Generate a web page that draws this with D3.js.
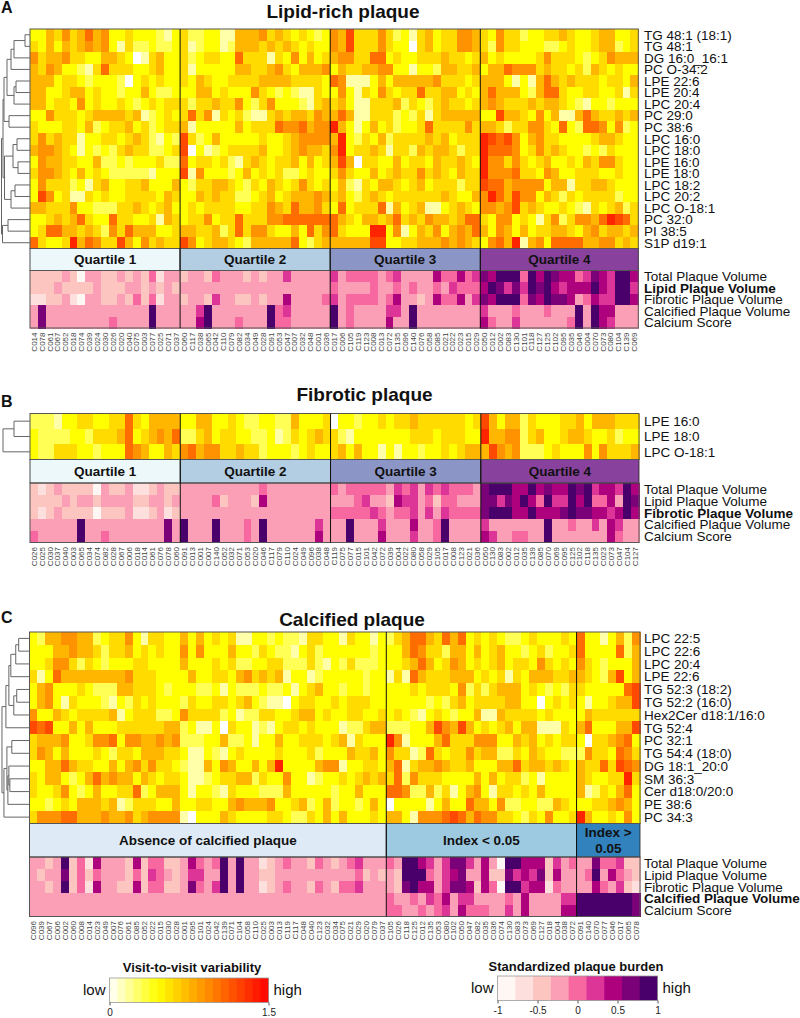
<!DOCTYPE html>
<html>
<head>
<meta charset="utf-8">
<script src="https://cdn.jsdelivr.net/npm/d3@7"></script>
<style>
html, body { margin: 0; padding: 0; background: #fff; }
svg { display: block; }
text { font-family: "Liberation Sans", Arial, sans-serif; }
</style>
</head>
<body>
<svg id="disp" width="800" height="1018"></svg>
<script>
// heat digits: value = digit * 0.15, burden digits: bin 1-9 of the legend
let aTitle = "Lipid-rich plaque";
let aGroups = ["Quartile 1", "Quartile 2", "Quartile 3", "Quartile 4"];
let aSamples = [
    ["C014","C078","C061","C067","C052","C018","C074","C039","C024","C030","C026","C020","C040","C075","C003","C077","C025","C071","C037"],
    ["C060","C117","C038","C065","C042","C110","C079","C082","C034","C049","C028","C091","C053","C047","C007","C032","C048","C001","C036"],
    ["C017","C006","C105","C119","C123","C008","C013","C072","C135","C096","C140","C076","C058","C085","C021","C022","C023","C015","C029"],
    ["C050","C012","C002","C083","C130","C101","C118","C127","C125","C102","C095","C035","C046","C004","C070","C073","C080","C104","C139","C069"]
];
let aLipids = ["TG 48:1 (18:1)","TG 48:1","DG 16:0_16:1","PC O-34:2","LPE 22:6","LPE 20:4","LPC 20:4","PC 29:0","PC 38:6","LPC 16:0","LPC 18:0","LPE 16:0","LPE 18:0","LPC 18:2","LPC 20:2","LPC O-18:1","PC 32:0","PI 38:5","S1P d19:1"];
let aHeat = [
    "3354645756334333213 4223311555645434323 6584446423145344665 43644233445433455334",
    "4353545656314223223 4123312555454543433 6584446433045344665 42644333223433455234",
    "6455644335543014533 4234433744414363534 5664477343344454434 53433334644432346555",
    "5465332147444334533 4133333554456435556 3544556633133255445 35576664544342543433",
    "5553443233320343433 4354334444555544443 7611135355555644434 55531315754544434435",
    "5533455343323353223 3355343336432321143 3631436434474455343 57555325774334433414",
    "5534436343343234344 4244544632463332145 4531144452432454434 56544454554321332333",
    "3364443455554512343 4746143421145455465 5751144423241455555 33855436351157544545",
    "4333443523445342344 5133333534447667566 9531353423347444464 55424466437327763623",
    "4645441334434542132 8423533333433456666 5932435244445453444 98786356443333455433",
    "5665431323245442234 8031234444533456554 6934454144254554244 97776346454332324333",
    "3655443352232333422 7344342145434453534 5850443353443544543 96646434533435466433",
    "4665435343222221333 8163332353434223433 4643353454464543544 96667443653344433433",
    "3644423145334453335 3244554324354346434 3521435543453444244 87756666355144554333",
    "3863411434334444354 3354544223453455565 4532454344444454335 69758663542434444233",
    "5544463322244543453 3434444334465475564 3734447153451134543 66568454334321434524",
    "3345457433744334154 3446344744466777777 7543554574546554577 43663431462466579874",
    "3477554542647555334 5544524746643353746 7433399361354635657 53653534455435645545",
    "7433495764485364544 8634554325555573245 5555588334455565654 36759156377775566454"
];
let aBurden = [
    "3333431443343435244 3443544434344644444 6455554564444755756 87999597987756876997",
    "3334333343334434343 4444444444444444444 5444454454544546555 79868698976777976996",
    "2233421443343535244 3443644334344744445 6455554574434755746 87999587988745766997",
    "4844444444444449444 4469444444495644444 9454444664944444444 64445444544494977444",
    "4844444444544449444 4479444544495544444 9454444744944444444 75446444444594976444"
];
let aTree = [28.5,
    [27, [26, [23, [19, [16, [5, 0, 1], 2], 3], [16, [14, 4, 5], 6]], [21, 7, 8]],
         [25.5, [17, [13, 9, 10], [12, 11, 12]], [19, [15, 13, 14], 15]]],
    [27.5, [22, 16, 17], 18]];

let bTitle = "Fibrotic plaque";
let bGroups = ["Quartile 1", "Quartile 2", "Quartile 3", "Quartile 4"];
let bSamples = [
    ["C026","C025","C030","C037","C040","C003","C065","C034","C074","C082","C028","C067","C006","C018","C014","C061","C076","C078","C060"],
    ["C091","C013","C001","C007","C140","C052","C032","C071","C053","C020","C046","C117","C079","C110","C024","C049","C096","C038","C048"],
    ["C119","C075","C077","C015","C101","C042","C072","C039","C004","C022","C080","C058","C029","C105","C017","C008","C123","C021","C036"],
    ["C050","C130","C083","C002","C012","C035","C139","C085","C070","C069","C095","C125","C102","C118","C135","C023","C073","C047","C104","C127"]
];
let bLipids = ["LPE 16:0","LPE 18:0","LPC O-18:1"];
let bHeat = [
    "2221334433447435555 3355334322332253334 0332334344544444434 85355243334453555444",
    "3222233244457345657 2245344332231243454 4213333333444344433 95566245334554334233",
    "3224443323337653354 6756644544233323433 4535331313323343455 58656222343336364445"
];
let bBurden = [
    "3234333314334223433 4444444444544444444 5455555465646565554 89997797877989677697",
    "3333434434444334434 4444534443744444444 4445644376645355444 88687975966979557498",
    "3234333313334223423 4444444444444444444 5555565455646465555 89997797778988776797",
    "4444449444444444484 9444944454944444464 4494446444744594444 64444444944544647644",
    "5444449445444444484 9444944454944444474 4494447444644594444 76445544944444447544"
];
let bTree = [27, [16, 0, 1], 2];

let cTitle = "Calcified plaque";
let cGroups = ["Absence of calcified plaque", "Index < 0.05", "Index >|0.05"];
let cSamples = [
    ["C096","C039","C067","C006","C002","C060","C008","C014","C023","C049","C007","C076","C061","C085","C052","C022","C015","C030","C028","C001","C095","C101","C024","C042","C139","C071","C104","C058","C110","C025","C003","C013","C119","C117","C048","C040","C123","C032","C034","C075","C021","C029","C020","C079","C037"],
    ["C105","C026","C118","C125","C012","C135","C053","C080","C102","C050","C047","C082","C035","C036","C074","C130","C083","C073","C069","C127","C018","C004","C038","C072"],
    ["C091","C140","C070","C077","C046","C017","C065","C078"]
];
let cLipids = ["LPC 22:5","LPC 22:6","LPC 20:4","LPE 22:6","TG 52:3 (18:2)","TG 52:2 (16:0)","Hex2Cer d18:1/16:0","TG 52:4","PC 32:1","TG 54:4 (18:0)","DG 18:1_20:0","SM 36:3","Cer d18:0/20:0","PE 38:6","PC 34:3"];
let cHeat = [
    "3255665523 4463144335 3534341133 2322144331 43313 245775475734 343223433343 73313526",
    "3335565542 4453434336 3633353324 3221342333 33323 335764425535 345332342334 73333725",
    "3346642432 3334433335 3334342233 4422242132 42223 334575346534 345344364343 64323335",
    "4137555555 5564443333 5334435645 4513312333 33233 141754445553 434143555445 54325835",
    "3563334322 2554443233 3223132223 2231345332 33233 333434443624 245553432324 43333378",
    "3563143332 1324343332 4334434532 1103443343 44433 333332324534 444553303434 31334558",
    "6335434444 5134442236 4444231224 4334553433 44334 343213432335 115444434333 35444444",
    "8783353533 3444444552 3113043312 1344343331 22455 222335865853 434535511143 57333558",
    "4555633466 7366556562 2233522313 3533444345 14333 961333574446 663354534344 30445673",
    "4653533343 2443555443 1132134333 3433342333 54453 644127434464 552243543322 26443764",
    "3355754433 5356464432 1153653353 5933335661 33443 571455654453 335574554543 54474876",
    "4355323575 6553543443 1123445524 3363312334 34545 472644433335 353442313333 54334494",
    "4334632353 3447235553 1332143332 2253333323 35333 776225241356 314434353333 51243573",
    "3323435554 5124443353 3443356555 6334523523 32353 033331353375 536223322543 33445653",
    "4666775556 5564566661 0333543333 4432243535 33343 553166678757 664432436334 95334363"
];
let cBurden = [
    "44349 35274 44373 55334 75459 49442 34544 35434 56444 549976468864 741997773645 44855633",
    "43448 35354 44353 65434 66449 49443 34444 44444 45343 439995467844 733867683744 45947543",
    "44349 35274 43373 55334 85469 49442 34544 35435 56444 438977468873 751996772544 44754632",
    "44444 44444 44444 44444 44444 44444 44444 44444 44444 544546574664 444547444466 99999998",
    "44444 44444 44444 44444 44444 44444 44444 44444 44444 554454564755 544647444477 99999998"
];
let cTree = [28, [24, [21, [19, [14, [11, 0, 1], 2], 3], [16, [13, 4, 5], 6]], 7],
    [26, [23, [18, 8, 9], [22, [21, 10, [20, 11, 12]], 13]], 14]];

let burdenRows = ["Total Plaque Volume", "Lipid Plaque Volume", "Fibrotic Plaque Volume", "Calcified Plaque Volume", "Calcium Score"];

let heatTicks = [0, 1.5];
let burdenTicks = [-1, -0.5, 0, 0.5, 1];
let burdenColors = ["#fff7f3", "#fde0dd", "#fcc5c0", "#fa9fb5", "#f768a1", "#dd3497", "#ae017e", "#7a0177", "#49006a"];
let quartileColors = ["#edf8fb", "#b3cde3", "#8c96c6", "#88419d"];
let calcifiedColors = ["#deebf7", "#9ecae1", "#3182bd"];

let heatColor = d3.scaleLinear().domain([0, 0.45, 1.5]).range(["#ffffff", "#ffff00", "#ff0000"]).clamp(true);
let burdenColor = d3.scaleQuantize().domain([-1, 1]).range(burdenColors);

let svg = d3.select("#disp");

function digits(s) {
    return s.replace(/ /g, "").split("").map(Number);
}

function heatValue(d) {
    return d * 0.15;
}

function burdenValue(d) {
    return -1 + (d - 0.5) * 2 / 9;
}

function dendrogram(g, tree, rowY, left, right) {
    // tree nodes are [height, child, child], leaves are row numbers
    let root = d3.hierarchy(tree, d => Array.isArray(d) ? d.slice(1) : null);
    let x = d3.scaleLinear().domain([0, 29]).range([right, left]);
    let path = "";
    root.eachAfter(function (n) {
        if (!n.children) {
            n.py = rowY(n.data) + rowY.bandwidth() / 2;
            n.px = x(0);
        } else {
            n.py = d3.mean(n.children, c => c.py);
            n.px = x(n.data[0]);
            path += "M" + n.children[0].px + "," + n.children[0].py + "H" + n.px
                + "V" + n.children[1].py + "H" + n.children[1].px;
        }
    });
    g.append("path").attr("d", path).attr("fill", "none").attr("stroke", "#666").attr("stroke-width", 1);
}

function drawPanel(p) {
    let samples = p.samples.flat();
    let x = d3.scaleBand().domain(d3.range(samples.length)).range([p.x0, p.x1]);
    let heatY = d3.scaleBand().domain(d3.range(p.lipids.length)).range([p.heatTop, p.heatBottom]);
    let burdenY = d3.scaleBand().domain(d3.range(burdenRows.length)).range([p.burdenTop, p.burdenBottom]);
    let g = svg.append("g");

    g.append("text").attr("x", p.titleX).attr("y", p.titleY).attr("text-anchor", "middle")
        .attr("font-size", 19).attr("font-weight", "bold").attr("fill", "#111").text(p.title);
    g.append("text").attr("x", 1).attr("y", p.letterY)
        .attr("font-size", 16).attr("font-weight", "bold").attr("fill", "#111").text(p.letter);

    p.heat.forEach(function (row, r) {
        g.append("g").selectAll("rect").data(digits(row)).join("rect")
            .attr("x", (d, i) => x(i)).attr("y", heatY(r))
            .attr("width", x.bandwidth() + 0.5).attr("height", heatY.bandwidth() + 0.5)
            .attr("fill", d => heatColor(heatValue(d)))
            .attr("shape-rendering", "crispEdges");
    });
    p.burden.forEach(function (row, r) {
        g.append("g").selectAll("rect").data(digits(row)).join("rect")
            .attr("x", (d, i) => x(i)).attr("y", burdenY(r))
            .attr("width", x.bandwidth() + 0.5).attr("height", burdenY.bandwidth() + 0.5)
            .attr("fill", d => burdenColor(burdenValue(d)))
            .attr("shape-rendering", "crispEdges");
    });

    // group bars and separators
    let start = 0;
    let edges = p.samples.map(function (s) {
        let e = { from: start, to: start + s.length };
        start += s.length;
        return e;
    });
    let edgeX = e => e.to < samples.length ? x(e.to) : p.x1;
    edges.forEach(function (e, i) {
        let a = x(e.from), b = edgeX(e);
        g.append("rect").attr("x", a).attr("y", p.heatBottom).attr("width", b - a)
            .attr("height", p.burdenTop - p.heatBottom).attr("fill", p.barColors[i])
            .attr("stroke", "#222").attr("stroke-width", 0.8);
        let lines = p.groups[i].split("|");
        lines.forEach(function (l, k) {
            g.append("text").attr("x", (a + b) / 2)
                .attr("y", (p.heatBottom + p.burdenTop) / 2 + 4.5 + (k - (lines.length - 1) / 2) * 16.5)
                .attr("text-anchor", "middle").attr("font-size", 13.5).attr("font-weight", "bold")
                .attr("fill", "#111").text(l);
        });
    });
    g.append("rect").attr("x", p.x0).attr("y", p.heatTop).attr("width", p.x1 - p.x0)
        .attr("height", p.heatBottom - p.heatTop).attr("fill", "none").attr("stroke", "#555").attr("stroke-width", 1);
    g.append("rect").attr("x", p.x0).attr("y", p.burdenTop).attr("width", p.x1 - p.x0)
        .attr("height", p.burdenBottom - p.burdenTop).attr("fill", "none").attr("stroke", "#555").attr("stroke-width", 1);
    edges.slice(0, -1).forEach(function (e) {
        g.append("line").attr("x1", x(e.to)).attr("x2", x(e.to))
            .attr("y1", p.heatTop).attr("y2", p.burdenBottom)
            .attr("stroke", "#111").attr("stroke-width", 1);
    });

    // row and column labels
    g.append("g").selectAll("text").data(p.lipids).join("text")
        .attr("x", p.labelX).attr("y", (d, i) => heatY(i) + heatY.bandwidth() / 2 + 4.8)
        .attr("font-size", 13.5).attr("fill", "#111").text(d => d);
    g.append("g").selectAll("text").data(burdenRows).join("text")
        .attr("x", p.labelX).attr("y", (d, i) => burdenY(i) + burdenY.bandwidth() / 2 + 4.8)
        .attr("font-size", 13.5).attr("fill", "#111")
        .attr("font-weight", (d, i) => i === p.boldRow ? "bold" : "normal").text(d => d);
    g.append("g").selectAll("text").data(samples).join("text")
        .attr("transform", (d, i) => "translate(" + (x(i) + x.bandwidth() / 2 + 2.8) + "," + (p.burdenBottom + 4.5) + ") rotate(-90)")
        .attr("text-anchor", "end").attr("font-size", 8).attr("fill", "#444").text(d => d);

    dendrogram(g, p.tree, heatY, 1, p.x0);
}

drawPanel({ title: aTitle, letter: "A", letterY: 13, titleX: 343, titleY: 18, groups: aGroups, samples: aSamples, lipids: aLipids,
    heat: aHeat, burden: aBurden, tree: aTree, barColors: quartileColors, boldRow: 1, labelX: 644,
    x0: 30, x1: 638.3, heatTop: 29, heatBottom: 248.5, burdenTop: 270.5, burdenBottom: 328 });
drawPanel({ title: bTitle, letter: "B", letterY: 407, titleX: 364.5, titleY: 400.5, groups: bGroups, samples: bSamples, lipids: bLipids,
    heat: bHeat, burden: bBurden, tree: bTree, barColors: quartileColors, boldRow: 2, labelX: 644,
    x0: 30, x1: 639, heatTop: 413.5, heatBottom: 459.5, burdenTop: 483, burdenBottom: 542.5 });
drawPanel({ title: cTitle, letter: "C", letterY: 623, titleX: 352, titleY: 625.5, groups: cGroups, samples: cSamples, lipids: cLipids,
    heat: cHeat, burden: cBurden, tree: cTree, barColors: calcifiedColors, boldRow: 3, labelX: 644,
    x0: 29.5, x1: 640, heatTop: 632, heatBottom: 823.5, burdenTop: 857, burdenBottom: 916.5 });

function legend(l) {
    let g = svg.append("g");
    let x = d3.scaleLinear().domain(l.domain).range([l.x0, l.x1]);
    let step = (l.domain[1] - l.domain[0]) / l.values.length;
    g.selectAll("rect.bin").data(l.values).join("rect").attr("class", "bin")
        .attr("x", (d, i) => x(l.domain[0] + i * step)).attr("y", l.y0)
        .attr("width", (l.x1 - l.x0) / l.values.length + 0.5).attr("height", l.y1 - l.y0)
        .attr("fill", d => l.color(d));
    g.append("rect").attr("x", l.x0).attr("y", l.y0).attr("width", l.x1 - l.x0).attr("height", l.y1 - l.y0)
        .attr("fill", "none").attr("stroke", "#999").attr("stroke-width", 0.8);
    g.append("text").attr("x", (l.x0 + l.x1) / 2 + l.titleShift).attr("y", l.titleY).attr("text-anchor", "middle")
        .attr("font-size", 13).attr("font-weight", "bold").attr("fill", "#111").text(l.title);
    g.append("text").attr("x", l.x0 - 4).attr("y", (l.y0 + l.y1) / 2 + 5).attr("text-anchor", "end")
        .attr("font-size", 15).attr("fill", "#111").text("low");
    g.append("text").attr("x", l.x1 + 5).attr("y", (l.y0 + l.y1) / 2 + 5)
        .attr("font-size", 15).attr("fill", "#111").text("high");
    let axis = g.append("g").attr("transform", "translate(0," + l.y1 + ")")
        .call(d3.axisBottom(x).tickValues(l.ticks).tickSize(3).tickPadding(3).tickFormat(d => String(d)));
    axis.select(".domain").remove();
    axis.selectAll("line").attr("stroke", "#555");
    axis.selectAll("text").attr("font-size", 10).attr("fill", "#222").style("font-family", "'Liberation Sans', Arial, sans-serif");
}

legend({ title: "Visit-to-visit variability", titleY: 972, domain: [0, 1.5], x0: 109.5, x1: 268.5, y0: 978, y1: 1002.5, titleShift: 3,
    values: d3.range(20).map(i => (i + 0.5) * 0.075), color: heatColor, ticks: heatTicks });
legend({ title: "Standardized plaque burden", titleY: 971, domain: [-1, 1], x0: 497.5, x1: 657.5, y0: 976, y1: 1000.5, titleShift: -1.5,
    values: d3.range(9).map(i => burdenValue(i + 1)), color: burdenColor, ticks: burdenTicks });
</script>
</body>
</html>
